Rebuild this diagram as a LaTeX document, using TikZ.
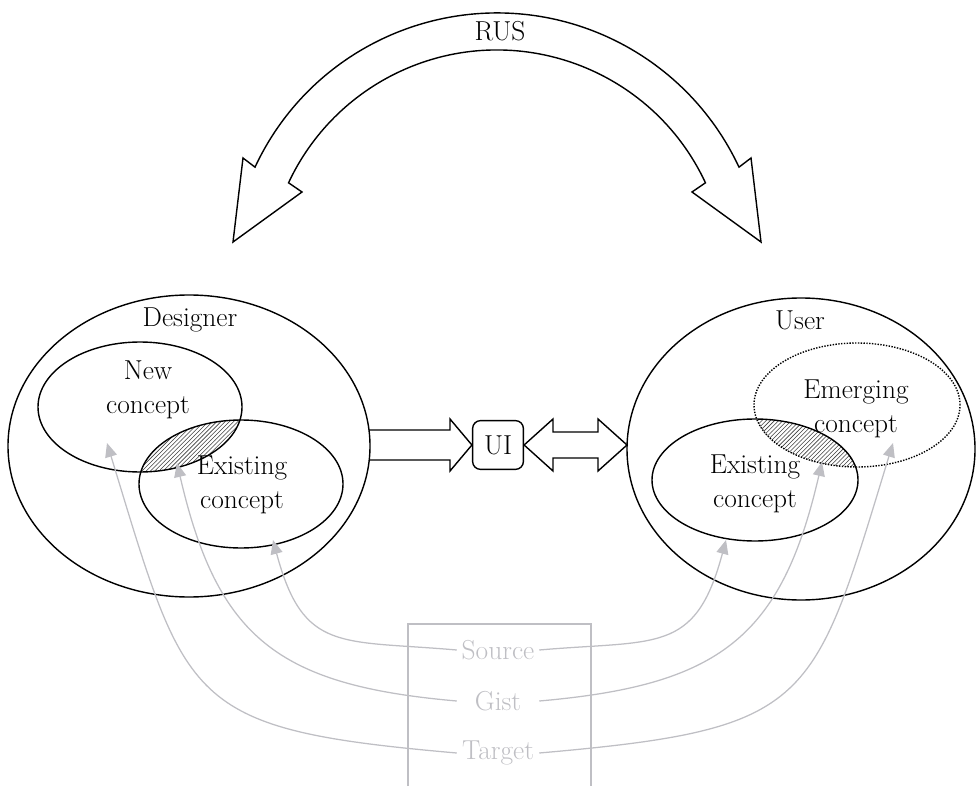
\documentclass[tikz,border=0pt]{standalone}
\usepackage{tikz}
\usetikzlibrary{arrows.meta,patterns}

\definecolor{srcgray}{RGB}{191,191,196}

\begin{document}
\begin{tikzpicture}[x=0.25cm, y=0.25cm,
    every node/.style={font=\fontsize{19.5}{24}\selectfont},
    mind/.style={line width=1pt},
    hatch/.style={pattern=north east lines, pattern color=black!75},
    link/.style={draw=srcgray, line width=0.9pt, looseness=1.4,
        -{Triangle[length=3.5mm,width=3mm]}}]
    \useasboundingbox (0,0) rectangle (97.6,78.6);
    % overlaps
    \begin{scope}
    \clip (14.0,37.9) ellipse [x radius=10.2, y radius=6.5];
    \fill[hatch] (24.1,30.2) ellipse [x radius=10.2, y radius=6.4];
    \end{scope}
    \begin{scope}
    \clip (85.7,38.1) ellipse [x radius=10.3, y radius=6.2];
    \fill[hatch] (75.5,30.6) ellipse [x radius=10.3, y radius=6.1];
    \end{scope}
    % designer and user
    \draw[mind] (18.9,34.0) ellipse [x radius=18.1, y radius=15.1];
    \draw[mind] (14.0,37.9) ellipse [x radius=10.2, y radius=6.5];
    \draw[mind] (24.1,30.2) ellipse [x radius=10.2, y radius=6.4];
    \draw[mind] (80.1,33.7) ellipse [x radius=17.4, y radius=15.1];
    \draw[mind, densely dotted] (85.7,38.1) ellipse [x radius=10.3, y radius=6.2];
    \draw[mind] (75.5,30.6) ellipse [x radius=10.3, y radius=6.1];
    \node (des) at (19.0,46.6) {Designer};
    \node (usr) at (80.0,46.6) {User};
    \node[align=center] (newc) at (14.8,39.6) {New\\concept};
    \node[align=center] (exl) at (24.2,30.1) {Existing\\concept};
    \node[align=center] (exr) at (75.5,30.2) {Existing\\concept};
    \node[align=center] (emg) at (85.6,37.7) {Emerging\\concept};
    % interface
    \node[draw, mind, rounded corners=2mm, minimum width=1.27cm,
        minimum height=1.22cm, inner sep=0pt] (ui) at (49.8,34.1) {UI};
    \draw[mind] (36.9,35.6) -- (45.0,35.6) -- (45.0,36.7) -- (ui.west)
        -- (45.0,31.5) -- (45.0,32.6) -- (36.9,32.6);
    \draw[mind] (ui.east) -- (55.3,36.7) -- (55.3,35.4) -- (59.8,35.4)
        -- (59.8,36.7) -- (62.7,34.1) -- (59.8,31.5) -- (59.8,32.8)
        -- (55.3,32.8) -- (55.3,31.5) -- cycle;
    % RUS
    \coordinate (rusc) at (49.7,50.6);
    \draw[mind] ([shift={(155:26.7)}]rusc) arc[start angle=155, end angle=25, radius=26.7]
        -- (75.1,62.8) -- (76.1,54.4) -- (69.2,59.4)
        -- ([shift={(25:23)}]rusc) arc[start angle=25, end angle=155, radius=23]
        -- (30.2,59.4) -- (23.3,54.4) -- (24.3,62.8) -- cycle;
    \node (rus) at (50.0,75.5) {RUS};
    % source, gist, target
    \draw[srcgray, line width=1pt] (40.8,0) -- (40.8,16.2) -- (59.1,16.2) -- (59.1,0);
    \node[text=srcgray] (src) at (49.8,13.6) {Source};
    \node[text=srcgray] (gist) at (49.8,8.5) {Gist};
    \node[text=srcgray] (tgt) at (49.8,3.3) {Target};
    \coordinate (srcL) at (27.3,24.6);
    \coordinate (gistL) at (17.7,32.3);
    \coordinate (tgtL) at (10.7,34.3);
    \coordinate (srcR) at (72.6,24.6);
    \coordinate (gistR) at (82.2,32.4);
    \coordinate (tgtR) at (89.3,34.3);
    \draw[link] (src.west) to[out=175, in=-75] (srcL);
    \draw[link, looseness=1.25] (src.west |- gist) to[out=175, in=-77] (gistL);
    \draw[link, looseness=1.5] (src.west |- tgt) to[out=175, in=-73] (tgtL);
    \draw[link] (src.east) to[out=5, in=-105] (srcR);
    \draw[link, looseness=1.25] (src.east |- gist) to[out=5, in=-103] (gistR);
    \draw[link, looseness=1.5] (src.east |- tgt) to[out=5, in=-107] (tgtR);
\end{tikzpicture}
\end{document}
